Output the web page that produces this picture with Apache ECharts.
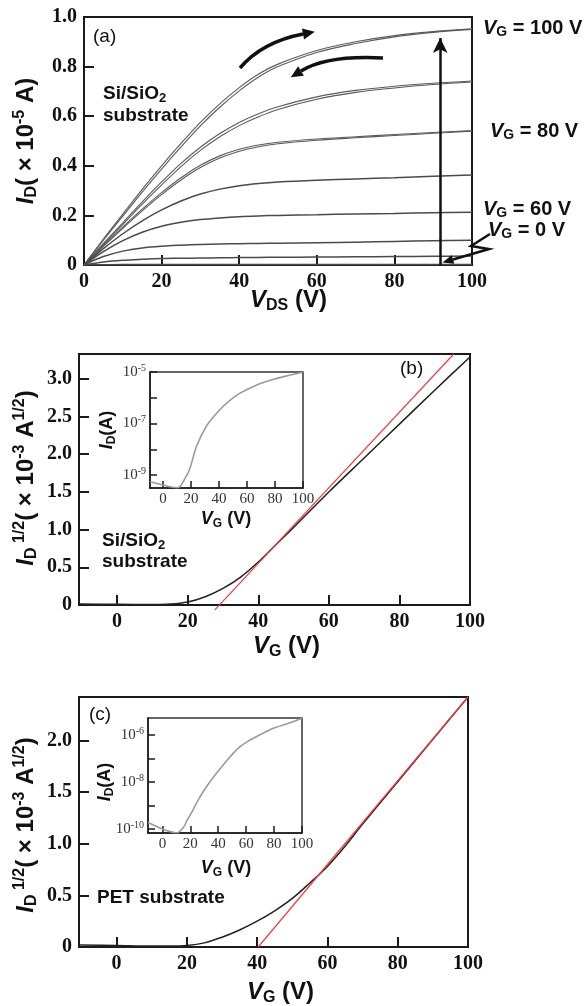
<!DOCTYPE html>
<html>
<head>
<meta charset="utf-8">
<script src="https://cdn.jsdelivr.net/npm/echarts@6/dist/echarts.min.js"></script>
<style>
html, body { margin: 0; background: #fff; }
#chart { width: 584px; height: 1006px; }
</style>
</head>
<body>
<div id="chart"></div>
<script>
// (a) output curves, I_D (x 1e-5 A) vs V_DS
const vds = [0, 5, 10, 15, 20, 25, 30, 35, 40, 45, 50, 60, 70, 80, 90, 100]
const idVg100Fwd = [0, 0.105, 0.205, 0.305, 0.4, 0.49, 0.575, 0.65, 0.715, 0.77, 0.81, 0.865, 0.9, 0.925, 0.941, 0.952]
const idVg100Rev = [0, 0.1, 0.197, 0.294, 0.387, 0.476, 0.561, 0.636, 0.702, 0.758, 0.8, 0.857, 0.893, 0.92, 0.938, 0.95]
const idVg90Fwd = [0, 0.087, 0.17, 0.255, 0.335, 0.41, 0.475, 0.53, 0.575, 0.61, 0.638, 0.678, 0.704, 0.721, 0.733, 0.742]
const idVg90Rev = [0, 0.083, 0.163, 0.245, 0.323, 0.397, 0.462, 0.517, 0.562, 0.598, 0.627, 0.668, 0.696, 0.714, 0.728, 0.738]
const idVg80Fwd = [0, 0.078, 0.153, 0.225, 0.292, 0.352, 0.402, 0.44, 0.467, 0.484, 0.495, 0.508, 0.517, 0.526, 0.534, 0.542]
const idVg80Rev = [0, 0.075, 0.148, 0.218, 0.284, 0.343, 0.393, 0.431, 0.459, 0.477, 0.489, 0.503, 0.513, 0.522, 0.531, 0.54]
const idVg70 = [0, 0.066, 0.126, 0.178, 0.222, 0.258, 0.286, 0.306, 0.32, 0.329, 0.335, 0.342, 0.347, 0.352, 0.358, 0.363]
const idVg60 = [0, 0.054, 0.098, 0.132, 0.156, 0.172, 0.183, 0.19, 0.195, 0.198, 0.2, 0.203, 0.206, 0.208, 0.211, 0.213]
const idVg50 = [0, 0.034, 0.056, 0.069, 0.076, 0.08, 0.083, 0.085, 0.086, 0.087, 0.088, 0.09, 0.092, 0.095, 0.098, 0.1]
const idVg40 = [0, 0.012, 0.019, 0.023, 0.026, 0.027, 0.028, 0.029, 0.03, 0.0305, 0.031, 0.032, 0.033, 0.034, 0.035, 0.036]
const idVg0 = [0, 0.001, 0.002, 0.002, 0.002, 0.002, 0.002, 0.002, 0.002, 0.002, 0.002, 0.002, 0.002, 0.002, 0.002, 0.002]

// (b) Si/SiO2 transfer curve, sqrt(I_D) (x 1e-3 A^1/2) vs V_G
const vgB = [-10.8, 0, 10, 15, 20, 25, 30, 35, 40, 45, 50, 60, 70, 80, 90, 100]
const sqrtIdB = [0.012, 0.01, 0.006, 0.012, 0.04, 0.11, 0.22, 0.37, 0.57, 0.8, 1.03, 1.5, 1.95, 2.4, 2.85, 3.29]
const fitVgB = [27.7, 95.4]
const fitB = [-0.065, 3.33]
// (b) inset, log10(I_D / A)
const vgInB = [-9.3, 0, 5, 10, 12, 15, 19, 24, 31, 37, 43, 49, 55, 67, 79, 91, 100]
const logIdInB = [-9.26, -9.38, -9.45, -9.49, -9.45, -9.2, -8.77, -7.87, -7.1, -6.68, -6.33, -6.05, -5.82, -5.5, -5.28, -5.12, -5.01]

// (c) PET transfer curve
const vgC = [-10.7, 0, 10, 15, 20, 25, 30, 35, 40, 45, 50, 55, 60, 65, 70, 80, 90, 100]
const sqrtIdC = [0.02, 0.015, 0.01, 0.01, 0.015, 0.04, 0.095, 0.165, 0.25, 0.35, 0.47, 0.62, 0.78, 0.975, 1.19, 1.6, 2.01, 2.42]
const fitVgC = [40.3, 100]
const fitC = [0, 2.42]
// (c) inset
const vgInC = [-10.3, 0, 5, 10, 14.7, 18, 22, 26.5, 31.7, 37.7, 43.7, 49.7, 55.8, 61.8, 67.8, 79.9, 92, 100]
const logIdInC = [-9.72, -10.0, -10.1, -10.17, -9.96, -9.6, -9.18, -8.67, -8.19, -7.7, -7.26, -6.84, -6.48, -6.24, -6.05, -5.7, -5.46, -5.28]

// tick labels
const vTicks = [0, 20, 40, 60, 80, 100]
const idTicksA = [0, 0.2, 0.4, 0.6, 0.8, 1.0]
const sqrtTicksB = [0, 0.5, 1.0, 1.5, 2.0, 2.5, 3.0]
const sqrtTicksC = [0, 0.5, 1.0, 1.5, 2.0]
const decTicksB = [-9, -8, -7, -6, -5]
const decLabelsB = [-9, -7, -5]
const decTicksC = [-10, -9, -8, -7, -6]
const decLabelsC = [-10, -8, -6]

// vertical arrow in (a)
const arrowVds = 91.8
const arrowTop = 0.915

const serif = 'Liberation Serif'
const sans = 'Liberation Sans'

const chart = echarts.init(document.getElementById('chart'))

function pairs(xs, ys) {
  return xs.map((x, i) => [x, ys[i]])
}

function decimal(v) {
  return v === 0 ? '0' : v.toFixed(1)
}

function decade(v) {
  const n = Math.round(v)
  return '{b|10}{s|' + (n < 0 ? '-' : '') + Math.abs(n) + '}'
}

function axis(gridIndex, min, max, ticks, labels, fmt, inset) {
  const w = inset ? 1.5 : 2
  return {
    type: 'value',
    gridIndex,
    min,
    max,
    axisLine: { show: true, onZero: false, lineStyle: { color: '#1a1a1a', width: w } },
    axisTick: {
      show: true,
      inside: true,
      length: inset ? 7 : 10,
      customValues: ticks,
      lineStyle: { color: '#1a1a1a', width: w },
    },
    axisLabel: {
      customValues: labels,
      formatter: fmt,
      color: inset ? '#333' : '#111',
      fontFamily: serif,
      fontWeight: inset ? 'normal' : 'bold',
      fontSize: inset ? 15 : 20,
      margin: inset ? 4 : 7,
      rich: {
        b: { fontFamily: serif, fontSize: 15, lineHeight: 18, color: '#333' },
        s: { fontFamily: serif, fontSize: 10, lineHeight: 10, verticalAlign: 'top', color: '#333' },
      },
    },
    splitLine: { show: false },
  }
}

function line(xs, ys, idx, color, width, extra) {
  return Object.assign({
    type: 'line',
    xAxisIndex: idx,
    yAxisIndex: idx,
    data: pairs(xs, ys),
    showSymbol: false,
    smooth: 0.35,
    silent: true,
    lineStyle: { color, width },
  }, extra || {})
}

function rich(size, small) {
  const base = { fontFamily: sans, fontWeight: 'bold', fill: '#111' }
  const lh = Math.round(size * 1.15)
  return {
    t: Object.assign({}, base, { fontSize: size, lineHeight: lh }),
    i: Object.assign({}, base, { fontStyle: 'italic', fontSize: size, lineHeight: lh }),
    r: Object.assign({}, base, { fontWeight: 'normal', fontSize: size, lineHeight: lh }),
    d: Object.assign({}, base, { fontSize: small, lineHeight: small, verticalAlign: 'bottom' }),
    u: Object.assign({}, base, { fontSize: small, lineHeight: small, verticalAlign: 'top' }),
  }
}

const richTitle = rich(24, 16)
const richVg = rich(20, 14)
const richInset = rich(18, 12)
const richNote = rich(19, 13)

function text(x, y, str, r, align, rotation) {
  return {
    type: 'text',
    x,
    y,
    rotation: rotation || 0,
    z: 50,
    silent: true,
    style: { text: str, rich: r, align: align || 'left', verticalAlign: 'middle', fill: '#111' },
  }
}

const ink = '#111'
const curveGrey = '#4a4a4a'

const option = {
  animation: false,
  backgroundColor: '#fff',
  grid: [
    { left: 84, top: 17, width: 388, height: 248, show: true, borderColor: '#1a1a1a', borderWidth: 2 },
    { left: 79, top: 354, width: 391, height: 251, show: true, borderColor: '#1a1a1a', borderWidth: 2 },
    { left: 150, top: 372, width: 153, height: 116, show: true, borderColor: '#333', borderWidth: 1.5, backgroundColor: '#fff' },
    { left: 79, top: 697, width: 389, height: 250, show: true, borderColor: '#1a1a1a', borderWidth: 2 },
    { left: 148, top: 718, width: 154, height: 115, show: true, borderColor: '#333', borderWidth: 1.5, backgroundColor: '#fff' },
  ],
  xAxis: [
    axis(0, 0, 100, vTicks, vTicks, (v) => String(v), false),
    axis(1, -10.8, 100, vTicks, vTicks, (v) => String(v), false),
    axis(2, -9.3, 100, vTicks, vTicks, (v) => String(v), true),
    axis(3, -10.7, 100, vTicks, vTicks, (v) => String(v), false),
    axis(4, -10.3, 100, vTicks, vTicks, (v) => String(v), true),
  ],
  yAxis: [
    axis(0, 0, 1.0, idTicksA, idTicksA, decimal, false),
    axis(1, 0, 3.33, sqrtTicksB, sqrtTicksB, decimal, false),
    axis(2, -9.5, -5, decTicksB, decLabelsB, decade, true),
    axis(3, 0, 2.42, sqrtTicksC, sqrtTicksC, decimal, false),
    axis(4, -10.17, -5.27, decTicksC, decLabelsC, decade, true),
  ],
  series: [
    // (a)
    line(vds, idVg100Fwd, 0, '#5a5a5a', 1.1, { name: 'VG = 100 V fwd' }),
    line(vds, idVg100Rev, 0, '#5a5a5a', 1.1, { name: 'VG = 100 V rev' }),
    line(vds, idVg90Fwd, 0, '#5a5a5a', 1.1, { name: 'VG = 90 V fwd' }),
    line(vds, idVg90Rev, 0, '#5a5a5a', 1.1, { name: 'VG = 90 V rev' }),
    line(vds, idVg80Fwd, 0, '#5a5a5a', 1.1, { name: 'VG = 80 V fwd' }),
    line(vds, idVg80Rev, 0, '#5a5a5a', 1.1, { name: 'VG = 80 V rev' }),
    line(vds, idVg70, 0, curveGrey, 1.5, { name: 'VG = 70 V' }),
    line(vds, idVg60, 0, curveGrey, 1.5, { name: 'VG = 60 V' }),
    line(vds, idVg50, 0, curveGrey, 1.5, { name: 'VG = 50 V' }),
    line(vds, idVg40, 0, curveGrey, 1.5, { name: 'VG = 40 V' }),
    line(vds, idVg0, 0, curveGrey, 1.5, {
      name: 'VG = 0 V',
      markLine: {
        silent: true,
        symbol: ['none', 'arrow'],
        symbolSize: [11, 15],
        label: { show: false },
        lineStyle: { color: ink, width: 2.5, type: 'solid' },
        data: [[{ coord: [arrowVds, 0] }, { coord: [arrowVds, arrowTop] }]],
      },
    }),
    // (b)
    line(vgB, sqrtIdB, 1, '#222', 1.5, { name: 'Si/SiO2' }),
    line(fitVgB, fitB, 1, '#f03c3c', 1.2, { name: 'fit b', smooth: false, clip: false, z: 3 }),
    line(vgInB, logIdInB, 2, '#9a9a9a', 1.6, { name: 'inset b' }),
    // (c)
    line(vgC, sqrtIdC, 3, '#222', 1.5, { name: 'PET' }),
    line(fitVgC, fitC, 3, '#f03c3c', 1.2, { name: 'fit c', smooth: false, clip: false, z: 3 }),
    line(vgInC, logIdInC, 4, '#9a9a9a', 1.6, { name: 'inset c' }),
  ],
  graphic: [
    // (a) texts
    text(26, 141, '{i|I}{d|D}{t|( × 10}{u|-5}{t| A)}', richTitle, 'center', Math.PI / 2),
    text(250, 300, '{i|V}{d|DS}{t| (V)}', richTitle, 'left'),
    text(93, 37, '{r|(a)}', rich(19, 13), 'left'),
    text(103, 94, '{t|Si/SiO}{d|2}', richNote, 'left'),
    text(103, 116, '{t|substrate}', richNote, 'left'),
    text(483, 28, '{i|V}{d|G}{t| = 100 V}', richVg, 'left'),
    text(490, 131, '{i|V}{d|G}{t| = 80 V}', richVg, 'left'),
    text(483, 209, '{i|V}{d|G}{t| = 60 V}', richVg, 'left'),
    text(488, 230, '{i|V}{d|G}{t| = 0 V}', richVg, 'left'),
    // (a) sweep arrows
    { type: 'bezierCurve', z: 60, silent: true, shape: { x1: 240, y1: 68, cpx1: 262, cpy1: 42, x2: 303, y2: 34 }, style: { stroke: ink, lineWidth: 3.5, fill: 'none' } },
    { type: 'polygon', z: 60, silent: true, shape: { points: [[314.8, 31.7], [304, 39.4], [302, 28.6]] }, style: { fill: ink } },
    { type: 'bezierCurve', z: 60, silent: true, shape: { x1: 383, y1: 58, cpx1: 327, cpy1: 55, x2: 301, y2: 71 }, style: { stroke: ink, lineWidth: 3.5, fill: 'none' } },
    { type: 'polygon', z: 60, silent: true, shape: { points: [[290.8, 77.3], [303.9, 75.7], [298.1, 66.3]] }, style: { fill: ink } },
    { type: 'polyline', z: 60, silent: true, shape: { points: [[490, 234], [471, 246], [489, 249], [453, 259.5]] }, style: { stroke: ink, lineWidth: 2.5, fill: 'none' } },
    { type: 'polygon', z: 60, silent: true, shape: { points: [[442.4, 262.6], [454.3, 263.8], [451.7, 255.2]] }, style: { fill: ink } },
    // (b) texts
    text(26, 478, '{i|I}{d|D}{u| 1/2}{t|( × 10}{u|-3}{t| A}{u|1/2}{t|)}', richTitle, 'center', Math.PI / 2),
    text(253, 646, '{i|V}{d|G}{t| (V)}', richTitle, 'left'),
    text(400, 369, '{r|(b)}', rich(19, 13), 'left'),
    text(102, 541, '{t|Si/SiO}{d|2}', richNote, 'left'),
    text(102, 562, '{t|substrate}', richNote, 'left'),
    text(226, 519, '{i|V}{d|G}{t| (V)}', richInset, 'center'),
    text(107, 430, '{i|I}{d|D}{t|(A)}', richInset, 'center', Math.PI / 2),
    // (c) texts
    text(26, 825, '{i|I}{d|D}{u| 1/2}{t|( × 10}{u|-3}{t| A}{u|1/2}{t|)}', richTitle, 'center', Math.PI / 2),
    text(247, 992, '{i|V}{d|G}{t| (V)}', richTitle, 'left'),
    text(89, 715, '{r|(c)}', rich(19, 13), 'left'),
    text(97, 898, '{t|PET substrate}', richNote, 'left'),
    text(226, 868, '{i|V}{d|G}{t| (V)}', richInset, 'center'),
    text(105, 782, '{i|I}{d|D}{t|(A)}', richInset, 'center', Math.PI / 2),
  ],
}

chart.setOption(option)
</script>
</body>
</html>
